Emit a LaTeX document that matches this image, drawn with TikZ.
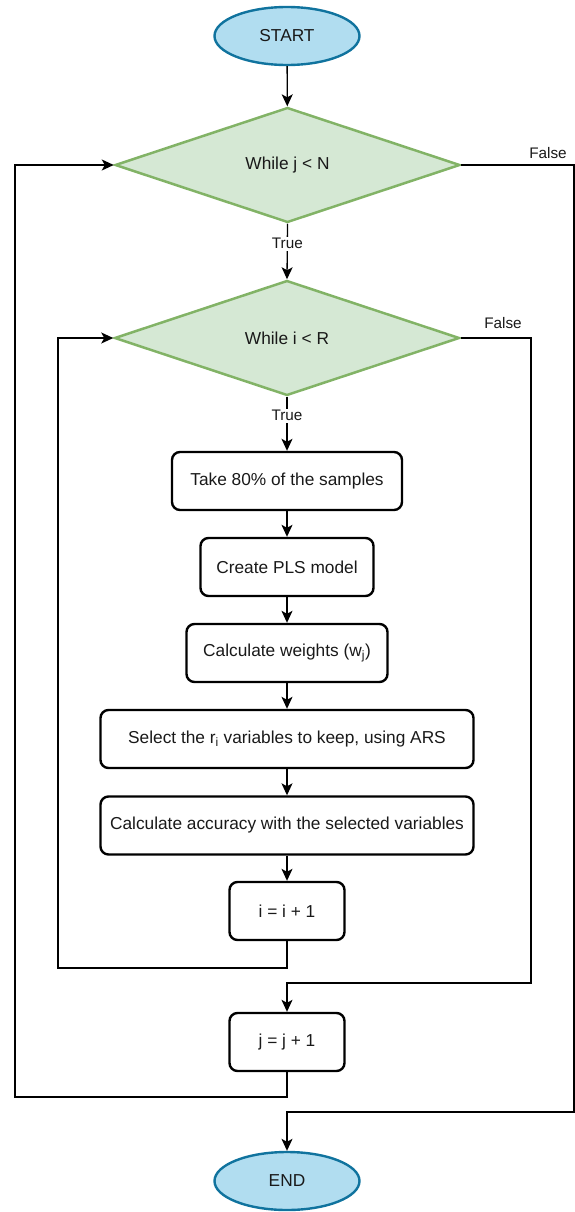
\documentclass[tikz,border=0pt]{standalone}
\usepackage{fontspec}
\setmainfont{Liberation Sans}
\usepackage{tikz}
\usetikzlibrary{arrows.meta,shapes.geometric}
\definecolor{termfill}{HTML}{B1DDF0}
\definecolor{termline}{HTML}{10739E}
\definecolor{decfill}{HTML}{D5E8D4}
\definecolor{decline}{HTML}{82B366}
\colorlet{textcol}{black!90}
\tikzset{every node/.style={font=\fontsize{17.3}{20}\selectfont, text=textcol}}
\tikzset{
  term/.style={ellipse, draw=termline, fill=termfill, line width=2.4pt,
    minimum width=145pt, minimum height=58pt, inner sep=0pt},
  decision/.style={diamond, draw=decline, fill=decfill, line width=2.5pt,
    minimum width=345pt, minimum height=115pt, inner sep=0pt},
  proc/.style={rectangle, rounded corners=8pt, draw=black, line width=2.4pt,
    minimum height=58pt, inner sep=0pt},
  flow/.style={line width=1.3pt, -{Stealth[length=12pt, width=11pt, inset=3pt]}},
  lbl/.style={font=\fontsize{15.3}{18}\selectfont, fill=white, inner sep=1.5pt},
}

\begin{document}
\begin{tikzpicture}[x=1pt, y=-1pt]

  \useasboundingbox (0,0) rectangle (575,1212);

  % Terminals.
  \node[term] (start) at (287,36) {START};
  \node[term] (end) at (287,1181) {END};

  % Loop tests.
  \node[decision] (wj) at (287.5,165) {While j < N};
  \node[decision] (wi) at (287,338) {While i < R};

  % Steps of the inner loop.
  \node[proc, minimum width=230pt] (take) at (287,481) {Take 80\% of the samples};
  \node[proc, minimum width=173pt] (pls) at (287,567) {Create PLS model};
  \node[proc, minimum width=201pt] (wts) at (287,653) {Calculate weights (w\textsubscript{j})};
  \node[proc, minimum width=373pt] (sel) at (287,739) {Select the r\textsubscript{i} variables to keep, using ARS};
  \node[proc, minimum width=373pt] (acc) at (287,825.5) {Calculate accuracy with the selected variables};
  \node[proc, minimum width=115pt] (inci) at (287,911) {i = i + 1};
  \node[proc, minimum width=115pt] (incj) at (287,1042) {j = j + 1};

  % Corners of the loop lines.
  \coordinate (iback) at (58,968);
  \coordinate (iout) at (531,983);
  \coordinate (jback) at (15,1097);
  \coordinate (jout) at (574,1112);

  % Straight flow.
  \draw[flow] (start) -- (wj);
  \draw[flow] (wj.south) -- node[lbl, pos=0.36] (tj) {True} (wi.north);
  \draw[flow] (wi.south) -- node[lbl, pos=0.35] (ti) {True} (take);
  \draw[flow] (take) -- (pls);
  \draw[flow] (pls) -- (wts);
  \draw[flow] (wts) -- (sel);
  \draw[flow] (sel) -- (acc);
  \draw[flow] (acc) -- (inci);

  % Loop backs.
  \draw[flow] (inci.south) |- (iback) |- (wi.west);
  \draw[flow] (incj.south) |- (jback) |- (wj.west);

  % Loop exits.
  \draw[flow] (wi.east) -| (iout) -| (incj.north);
  \draw[flow] (wj.east) -| (jout) -| (end.north);
  \node[lbl] (fi) at (503,323) {False};
  \node[lbl] (fj) at (548,153) {False};

\end{tikzpicture}
\end{document}
